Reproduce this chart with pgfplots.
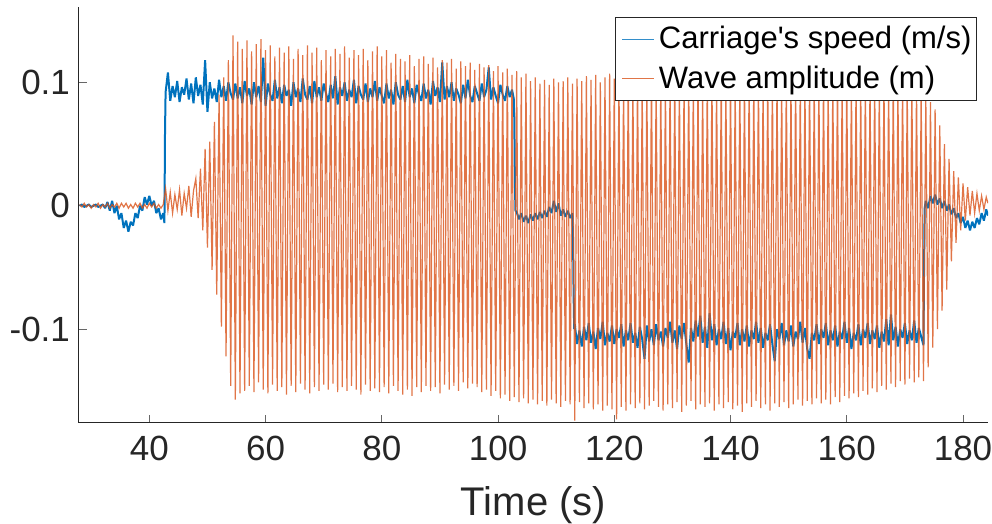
\documentclass[border=0pt]{standalone}
\usepackage{fontspec}
\setmainfont{Liberation Sans}[Ligatures=TeXOff]
\usepackage{pgfplots}
\pgfplotsset{compat=1.18}
\definecolor{mblue}{rgb}{0,0.447,0.741}
\definecolor{morange}{rgb}{0.851,0.325,0.098}
\definecolor{maxis}{rgb}{0.15,0.15,0.15}
\begin{document}
\begin{tikzpicture}
\path[use as bounding box] (-39.5pt,-50.5pt) rectangle (456.5pt,211.5pt);
\begin{axis}[
  at={(0,0)}, anchor=south west,
  scale only axis, width=454.5pt, height=208pt,
  xmin=27.9, xmax=184.3, ymin=-0.176, ymax=0.161,
  axis x line*=bottom, axis y line*=left,
  axis line style={maxis, line width=0.5pt, -},
  tick align=inside, major tick length=4pt,
  tick style={maxis!70, line width=0.5pt},
  xtick={40,60,80,100,120,140,160,180},
  xticklabels={40,60,80,100,120,140,160,180},
  ytick={-0.1,0,0.1},
  yticklabels={-0.1,0,0.1},
  ticklabel style={font=\fontsize{17.5}{20}\selectfont, text=black!85},
  xticklabel style={yshift=-3pt},
  yticklabel style={xshift=-1pt},
  xlabel={Time (s)},
  xlabel style={font=\fontsize{20}{23}\selectfont, text=black!85, yshift=-6pt},
  legend style={at={(1,1)}, anchor=north east, xshift=-5.5pt, yshift=-5pt,
    font=\fontsize{15.5}{18}\selectfont, draw=maxis, line width=0.5pt,
    inner xsep=0.5pt, inner ysep=2.5pt, row sep=3pt, fill=white},
  legend cell align=left,
  legend image code/.code={\path (0pt,0pt); \draw[#1, line width=0.5pt, opacity=0.8] (2.5pt,0pt) -- (18.5pt,0pt);},
  clip=true,
]
\addplot[mblue, line width=1.0pt, line join=bevel] coordinates {
(28.0,0.000) (28.4,0.001) (28.8,-0.001) (29.2,0.000) (29.6,0.001) (30.0,-0.001) (30.4,0.000) (30.8,0.001) (31.2,-0.001) (31.6,0.000) (32.0,0.001) (32.4,-0.002)
(32.8,0.003) (33.2,-0.004) (33.6,0.004) (34.0,-0.006) (34.4,0.000) (34.8,-0.011) (35.2,-0.006) (35.6,-0.018) (36.0,-0.012) (36.4,-0.021)
(36.8,-0.013) (37.2,-0.016) (37.6,-0.006) (38.0,-0.010) (38.4,0.000) (38.8,-0.004) (39.2,0.007) (39.6,0.001) (40.0,0.008) (40.4,0.000)
(40.8,0.004) (41.2,-0.006) (41.6,-0.002) (42.0,-0.011) (42.4,-0.006) (42.6,-0.014) (42.7,0.060) (42.8,0.092)
(43.2,0.108) (43.6,0.085) (44.0,0.097) (44.4,0.088) (44.8,0.101) (45.2,0.084) (45.6,0.096) (46.0,0.090) (46.4,0.103) (46.8,0.086)
(47.2,0.099) (47.6,0.083) (48.0,0.104) (48.4,0.089) (48.8,0.098) (49.2,0.082) (49.6,0.118) (50.0,0.076) (50.4,0.100) (50.8,0.087)
(51.2,0.095) (51.6,0.084) (52.0,0.102) (52.4,0.088) (52.8,0.097) (53.2,0.085) (53.6,0.100) (54.0,0.091) (54.4,0.086) (54.8,0.099)
(55.2,0.087) (55.6,0.096) (56.0,0.083) (56.4,0.101) (56.8,0.089) (57.2,0.095) (57.6,0.082) (58.0,0.100) (58.4,0.088) (58.8,0.097)
(59.2,0.084) (59.6,0.120) (60.0,0.081) (60.4,0.099) (60.8,0.090) (61.2,0.085) (61.6,0.102) (62.0,0.087) (62.4,0.096) (62.8,0.083)
(63.2,0.098) (63.6,0.089) (64.0,0.094) (64.4,0.081) (64.8,0.100) (65.2,0.088) (65.6,0.095) (66.0,0.084) (66.4,0.103) (66.8,0.090)
(67.2,0.086) (67.6,0.097) (68.0,0.083) (68.4,0.101) (68.8,0.088) (69.2,0.096) (69.6,0.085) (70.0,0.099) (70.4,0.091) (70.8,0.084)
(71.2,0.098) (71.6,0.087) (72.0,0.105) (72.4,0.082) (72.8,0.096) (73.2,0.089) (73.6,0.100) (74.0,0.085) (74.4,0.094) (74.8,0.088)
(75.2,0.102) (75.6,0.083) (76.0,0.097) (76.4,0.090) (76.8,0.086) (77.2,0.099) (77.6,0.084) (78.0,0.095) (78.4,0.088) (78.8,0.101)
(79.2,0.085) (79.6,0.096) (80.0,0.089) (80.4,0.083) (80.8,0.099) (81.2,0.087) (81.6,0.094) (82.0,0.082) (82.4,0.100) (82.8,0.090)
(83.2,0.086) (83.6,0.097) (84.0,0.084) (84.4,0.102) (84.8,0.088) (85.2,0.095) (85.6,0.083) (86.0,0.098) (86.4,0.090) (86.8,0.085)
(87.2,0.099) (87.6,0.087) (88.0,0.094) (88.4,0.082) (88.8,0.101) (89.2,0.089) (89.6,0.096) (90.0,0.084) (90.4,0.116) (90.8,0.086)
(91.2,0.097) (91.6,0.088) (92.0,0.100) (92.4,0.085) (92.8,0.095) (93.2,0.090) (93.6,0.083) (94.0,0.098) (94.4,0.087) (94.8,0.102)
(95.2,0.089) (95.6,0.084) (96.0,0.097) (96.4,0.091) (96.8,0.085) (97.2,0.099) (97.6,0.088) (98.0,0.094) (98.4,0.112) (98.8,0.086)
(99.2,0.096) (99.6,0.089) (100.0,0.083) (100.4,0.098) (100.8,0.090) (101.2,0.085) (101.6,0.097) (102.0,0.088) (102.4,0.094) (102.7,0.087)
(102.8,0.070) (102.9,0.018) (103.0,-0.004)
(103.2,-0.005) (103.6,-0.011) (104.0,-0.006) (104.4,-0.013) (104.8,-0.008) (105.2,-0.014) (105.6,-0.007) (106.0,-0.012) (106.4,-0.006) (106.8,-0.011)
(107.2,-0.005) (107.6,-0.010) (108.0,-0.004) (108.4,-0.009) (108.8,-0.001) (109.2,-0.006) (109.6,0.004) (110.0,-0.005) (110.4,0.002) (110.8,-0.008)
(111.2,-0.003) (111.6,-0.009) (112.0,-0.004) (112.4,-0.010) (112.8,-0.006) (112.9,-0.026) (113.0,-0.072) (113.1,-0.100)
(113.2,-0.096) (113.6,-0.112) (114.0,-0.101) (114.4,-0.114) (114.8,-0.098) (115.2,-0.109) (115.6,-0.095) (116.0,-0.111) (116.4,-0.102) (116.8,-0.116)
(117.2,-0.099) (117.6,-0.108) (118.0,-0.094) (118.4,-0.113) (118.8,-0.103) (119.2,-0.110) (119.6,-0.097) (120.0,-0.112) (120.4,-0.100) (120.8,-0.107)
(121.2,-0.096) (121.6,-0.114) (122.0,-0.101) (122.4,-0.109) (122.8,-0.095) (123.2,-0.111) (123.6,-0.103) (124.0,-0.115) (124.4,-0.098) (124.8,-0.108)
(125.2,-0.124) (125.6,-0.097) (126.0,-0.110) (126.4,-0.100) (126.8,-0.113) (127.2,-0.096) (127.6,-0.109) (128.0,-0.102) (128.4,-0.114) (128.8,-0.099)
(129.2,-0.107) (129.6,-0.094) (130.0,-0.111) (130.4,-0.101) (130.8,-0.116) (131.2,-0.097) (131.6,-0.108) (132.0,-0.095) (132.4,-0.112) (132.8,-0.127)
(133.2,-0.099) (133.6,-0.110) (134.0,-0.093) (134.4,-0.106) (134.8,-0.089) (135.2,-0.111) (135.6,-0.098) (136.0,-0.115) (136.4,-0.087) (136.8,-0.109)
(137.2,-0.096) (137.6,-0.113) (138.0,-0.100) (138.4,-0.108) (138.8,-0.094) (139.2,-0.112) (139.6,-0.099) (140.0,-0.117) (140.4,-0.102) (140.8,-0.107)
(141.2,-0.095) (141.6,-0.113) (142.0,-0.100) (142.4,-0.110) (142.8,-0.097) (143.2,-0.114) (143.6,-0.101) (144.0,-0.108) (144.4,-0.094) (144.8,-0.111)
(145.2,-0.099) (145.6,-0.115) (146.0,-0.103) (146.4,-0.109) (146.8,-0.096) (147.2,-0.112) (147.6,-0.126) (148.0,-0.100) (148.4,-0.108) (148.8,-0.095)
(149.2,-0.113) (149.6,-0.101) (150.0,-0.110) (150.4,-0.097) (150.8,-0.114) (151.2,-0.102) (151.6,-0.108) (152.0,-0.094) (152.4,-0.111) (152.8,-0.099)
(153.2,-0.116) (153.6,-0.124) (154.0,-0.103) (154.4,-0.109) (154.8,-0.096) (155.2,-0.112) (155.6,-0.100) (156.0,-0.107) (156.4,-0.095) (156.8,-0.113)
(157.2,-0.101) (157.6,-0.109) (158.0,-0.097) (158.4,-0.114) (158.8,-0.102) (159.2,-0.108) (159.6,-0.094) (160.0,-0.111) (160.4,-0.099) (160.8,-0.116)
(161.2,-0.103) (161.6,-0.109) (162.0,-0.096) (162.4,-0.113) (162.8,-0.100) (163.2,-0.107) (163.6,-0.095) (164.0,-0.112) (164.4,-0.101) (164.8,-0.108)
(165.2,-0.097) (165.6,-0.115) (166.0,-0.102) (166.4,-0.110) (166.8,-0.092) (167.2,-0.113) (167.6,-0.088) (168.0,-0.109) (168.4,-0.098) (168.8,-0.114)
(169.2,-0.100) (169.6,-0.107) (170.0,-0.095) (170.4,-0.112) (170.8,-0.101) (171.2,-0.109) (171.6,-0.093) (172.0,-0.111) (172.4,-0.099) (172.8,-0.106)
(173.2,-0.113) (173.3,-0.050) (173.4,-0.002)
(173.6,0.004) (174.0,-0.002) (174.4,0.008) (174.8,0.002) (175.2,0.009) (175.6,0.001) (176.0,0.006) (176.4,-0.002) (176.8,0.004) (177.2,-0.004)
(177.6,0.001) (178.0,-0.007) (178.4,-0.002) (178.8,-0.010) (179.2,-0.006) (179.6,-0.014) (180.0,-0.009) (180.4,-0.018) (180.8,-0.012) (181.2,-0.020)
(181.6,-0.013) (182.0,-0.018) (182.4,-0.010) (182.8,-0.015) (183.2,-0.006) (183.6,-0.012) (184.0,-0.003) (184.3,-0.008)
};
\addlegendentry{Carriage's speed (m/s)}
\addplot[morange, line width=0.6pt, opacity=0.8] coordinates {
(28.0,0.001) (28.4,-0.001) (28.8,0.002) (29.2,-0.001) (29.6,0.001) (30.0,-0.002) (30.4,0.001) (30.8,-0.001) (31.2,0.002) (31.6,-0.002)
(32.0,0.001) (32.4,-0.001) (32.8,0.002) (33.2,-0.002) (33.6,0.001) (34.0,-0.001) (34.4,0.002) (34.8,-0.002) (35.2,0.002) (35.6,-0.001)
(36.0,0.002) (36.4,-0.002) (36.8,0.001) (37.2,-0.002) (37.6,0.002) (38.0,-0.001) (38.4,0.002) (38.8,-0.002) (39.2,0.001) (39.6,-0.002)
(40.0,0.002) (40.4,-0.001) (40.8,0.002) (41.2,-0.002) (41.6,0.001) (42.0,-0.002) (42.4,0.001)
(42.8,0.014) (43.2,-0.004) (43.6,0.011) (44.0,-0.006) (44.4,0.009) (44.8,-0.003) (45.2,0.013) (45.6,-0.008) (46.0,0.010) (46.4,-0.002)
(46.8,0.016) (47.2,-0.009) (47.6,0.012)
(48.0,0.022) (48.4,-0.010) (48.8,0.030) (49.2,-0.020) (49.6,0.046) (50.0,-0.034) (50.4,0.052) (50.8,-0.052) (51.2,0.068) (51.6,-0.072)
(52.0,0.090) (52.4,-0.098) (52.8,0.104) (53.2,-0.122) (53.6,0.118) (54.0,-0.146) (54.4,0.138) (54.8,-0.157) (55.2,0.133) (55.6,-0.152)
(56.0,0.127) (56.4,-0.150) (56.8,0.134) (57.2,-0.146) (57.6,0.125) (58.0,-0.151) (58.4,0.131) (58.8,-0.143) (59.2,0.135) (59.6,-0.149)
(60.0,0.126) (60.4,-0.152) (60.8,0.130) (61.2,-0.145) (61.6,0.121) (62.0,-0.150) (62.4,0.128) (62.8,-0.147) (63.2,0.124) (63.6,-0.153)
(64.0,0.129) (64.4,-0.146) (64.8,0.119) (65.2,-0.151) (65.6,0.127) (66.0,-0.144) (66.4,0.122) (66.8,-0.149) (67.2,0.130) (67.6,-0.152)
(68.0,0.124) (68.4,-0.147) (68.8,0.128) (69.2,-0.150) (69.6,0.118) (70.0,-0.145) (70.4,0.126) (70.8,-0.149) (71.2,0.121) (71.6,-0.144)
(72.0,0.127) (72.4,-0.151) (72.8,0.123) (73.2,-0.147) (73.6,0.129) (74.0,-0.150) (74.4,0.120) (74.8,-0.146) (75.2,0.126) (75.6,-0.149)
(76.0,0.122) (76.4,-0.153) (76.8,0.127) (77.2,-0.145) (77.6,0.118) (78.0,-0.150) (78.4,0.125) (78.8,-0.148) (79.2,0.129) (79.6,-0.151)
(80.0,0.121) (80.4,-0.147) (80.8,0.126) (81.2,-0.152) (81.6,0.116) (82.0,-0.146) (82.4,0.123) (82.8,-0.150) (83.2,0.119) (83.6,-0.153)
(84.0,0.117) (84.4,-0.149) (84.8,0.122) (85.2,-0.154) (85.6,0.113) (86.0,-0.147) (86.4,0.119) (86.8,-0.151) (87.2,0.121) (87.6,-0.146)
(88.0,0.115) (88.4,-0.150) (88.8,0.120) (89.2,-0.147) (89.6,0.112) (90.0,-0.152) (90.4,0.118) (90.8,-0.145) (91.2,0.116) (91.6,-0.149)
(92.0,0.119) (92.4,-0.146) (92.8,0.111) (93.2,-0.150) (93.6,0.117) (94.0,-0.143) (94.4,0.113) (94.8,-0.148) (95.2,0.116) (95.6,-0.144)
(96.0,0.110) (96.4,-0.147) (96.8,0.115) (97.2,-0.151) (97.6,0.112) (98.0,-0.149) (98.4,0.114) (98.8,-0.154) (99.2,0.109) (99.6,-0.150)
(100.0,0.113) (100.4,-0.156) (100.8,0.108) (101.2,-0.153) (101.6,0.111) (102.0,-0.158) (102.4,0.106) (102.8,-0.155) (103.2,0.109) (103.6,-0.159)
(104.0,0.104) (104.4,-0.156) (104.8,0.107) (105.2,-0.160) (105.6,0.101) (106.0,-0.157) (106.4,0.104) (106.8,-0.161) (107.2,0.099) (107.6,-0.158)
(108.0,0.102) (108.4,-0.162) (108.8,0.098) (109.2,-0.157) (109.6,0.103) (110.0,-0.160) (110.4,0.100) (110.8,-0.163) (111.2,0.101) (111.6,-0.158)
(112.0,0.104) (112.4,-0.161) (112.8,0.099) (113.2,-0.174) (113.6,0.103) (114.0,-0.159) (114.4,0.101) (114.8,-0.164) (115.2,0.105) (115.6,-0.160)
(116.0,0.102) (116.4,-0.165) (116.8,0.106) (117.2,-0.161) (117.6,0.100) (118.0,-0.166) (118.4,0.104) (118.8,-0.162) (119.2,0.107) (119.6,-0.165)
(120.0,0.103) (120.4,-0.173) (120.8,0.105) (121.2,-0.163) (121.6,0.101) (122.0,-0.166) (122.4,0.106) (122.8,-0.161) (123.2,0.102) (123.6,-0.164)
(124.0,0.105) (124.4,-0.160) (124.8,0.100) (125.2,-0.165) (125.6,0.104) (126.0,-0.162) (126.4,0.107) (126.8,-0.158) (127.2,0.102) (127.6,-0.163)
(128.0,0.104) (128.4,-0.166) (128.8,0.101) (129.2,-0.161) (129.6,0.106) (130.0,-0.164) (130.4,0.103) (130.8,-0.159) (131.2,0.105) (131.6,-0.167)
(132.0,0.100) (132.4,-0.162) (132.8,0.105) (133.2,-0.158) (133.6,0.102) (134.0,-0.165) (134.4,0.106) (134.8,-0.161) (135.2,0.101) (135.6,-0.163)
(136.0,0.104) (136.4,-0.160) (136.8,0.107) (137.2,-0.166) (137.6,0.102) (138.0,-0.161) (138.4,0.105) (138.8,-0.164) (139.2,0.100) (139.6,-0.159)
(140.0,0.106) (140.4,-0.165) (140.8,0.101) (141.2,-0.162) (141.6,0.104) (142.0,-0.167) (142.4,0.103) (142.8,-0.160) (143.2,0.107) (143.6,-0.163)
(144.0,0.102) (144.4,-0.158) (144.8,0.105) (145.2,-0.164) (145.6,0.101) (146.0,-0.161) (146.4,0.104) (146.8,-0.166) (147.2,0.106) (147.6,-0.160)
(148.0,0.103) (148.4,-0.163) (148.8,0.100) (149.2,-0.159) (149.6,0.105) (150.0,-0.164) (150.4,0.102) (150.8,-0.161) (151.2,0.106) (151.6,-0.157)
(152.0,0.101) (152.4,-0.162) (152.8,0.104) (153.2,-0.158) (153.6,0.107) (154.0,-0.161) (154.4,0.102) (154.8,-0.156) (155.2,0.105) (155.6,-0.160)
(156.0,0.103) (156.4,-0.157) (156.8,0.100) (157.2,-0.161) (157.6,0.104) (158.0,-0.155) (158.4,0.106) (158.8,-0.159) (159.2,0.101) (159.6,-0.154)
(160.0,0.105) (160.4,-0.156) (160.8,0.102) (161.2,-0.152) (161.6,0.104) (162.0,-0.155) (162.4,0.100) (162.8,-0.150) (163.2,0.103) (163.6,-0.153)
(164.0,0.101) (164.4,-0.148) (164.8,0.104) (165.2,-0.151) (165.6,0.099) (166.0,-0.146) (166.4,0.103) (166.8,-0.149) (167.2,0.100) (167.6,-0.144)
(168.0,0.102) (168.4,-0.147) (168.8,0.098) (169.2,-0.142) (169.6,0.101) (170.0,-0.145) (170.4,0.097) (170.8,-0.140) (171.2,0.100) (171.6,-0.143)
(172.0,0.096) (172.4,-0.139) (172.8,0.092) (173.2,-0.142) (173.6,0.088) (174.0,-0.131) (174.4,0.084) (174.8,-0.115) (175.2,0.078) (175.6,-0.100)
(176.0,0.065) (176.4,-0.085) (176.8,0.050) (177.2,-0.068) (177.6,0.038) (178.0,-0.045) (178.4,0.028) (178.8,-0.030) (179.2,0.023) (179.6,-0.020)
(180.0,0.018) (180.4,-0.012) (180.8,0.015) (181.2,-0.008) (181.6,0.012) (182.0,-0.006) (182.4,0.010) (182.8,-0.004) (183.2,0.008) (183.6,-0.003)
(184.0,0.007) (184.3,0.002)
};
\addlegendentry{Wave amplitude (m)}
\end{axis}
\end{tikzpicture}
\end{document}
